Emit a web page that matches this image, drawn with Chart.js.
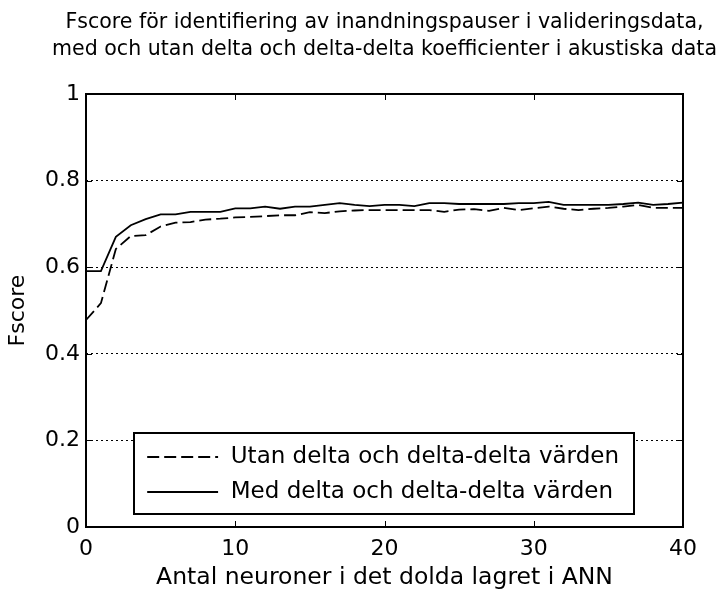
<!DOCTYPE html>
<html>
<head>
<meta charset="utf-8">
<script src="https://cdn.jsdelivr.net/npm/chart.js@4"></script>
<style>
    html, body { margin: 0; padding: 0; background: #fff; }
    #wrap { position: relative; width: 719px; height: 592px; }
</style>
</head>
<body>
<div id="wrap"><canvas id="chart"></canvas></div>
<script>
    "use strict";

    const titleLines = [
        "Fscore för identifiering av inandningspauser i valideringsdata,",
        "med och utan delta och delta-delta koefficienter i akustiska data"
    ];
    const xTitle = "Antal neuroner i det dolda lagret i ANN";
    const yTitle = "Fscore";

    const neurons = [0, 1, 2, 3, 4, 5, 6, 7, 8, 9, 10, 11, 12, 13, 14, 15, 16, 17, 18, 19, 20,
        21, 22, 23, 24, 25, 26, 27, 28, 29, 30, 31, 32, 33, 34, 35, 36, 37, 38, 39, 40];

    const utanLabel = "Utan delta och delta-delta värden";
    const utanValues = [0.478, 0.517, 0.642, 0.672, 0.674, 0.694, 0.703, 0.704, 0.710, 0.712, 0.715,
        0.716, 0.718, 0.720, 0.720, 0.727, 0.725, 0.729, 0.731, 0.732, 0.732,
        0.732, 0.732, 0.732, 0.728, 0.733, 0.734, 0.730, 0.737, 0.732, 0.736,
        0.740, 0.735, 0.732, 0.735, 0.737, 0.740, 0.744, 0.737, 0.737, 0.737];

    const medLabel = "Med delta och delta-delta värden";
    const medValues = [0.591, 0.591, 0.670, 0.697, 0.711, 0.722, 0.722, 0.728, 0.728, 0.728, 0.736,
        0.736, 0.740, 0.735, 0.740, 0.740, 0.744, 0.748, 0.744, 0.741, 0.744,
        0.744, 0.741, 0.748, 0.748, 0.746, 0.746, 0.746, 0.746, 0.748, 0.748,
        0.751, 0.744, 0.744, 0.744, 0.744, 0.746, 0.749, 0.744, 0.746, 0.749];

    const xTicks = [0, 10, 20, 30, 40];
    const yTicks = [0, 0.2, 0.4, 0.6, 0.8, 1];

    const FONT = '"DejaVu Sans", "Noto Sans", sans-serif';

    const toPoints = (xs, ys) => xs.map((x, i) => ({ x: x, y: ys[i] }));

    // title over the axes, box, inward ticks and the legend inside the axes
    const framePlugin = {
        id: 'frame',
        afterDraw(chart) {
            const ctx = chart.ctx;
            const a = chart.chartArea;
            const xs = chart.scales.x;
            const ys = chart.scales.y;
            ctx.save();

            // title, centred on the axes and kept to the width of the original
            ctx.font = '21.5px ' + FONT;
            ctx.fillStyle = '#000';
            ctx.textAlign = 'center';
            ctx.textBaseline = 'middle';
            const cx = (a.left + a.right) / 2;
            const widest = Math.max(...titleLines.map(t => ctx.measureText(t).width));
            const sx = Math.min(1, 665 / widest);
            titleLines.forEach((t, i) => {
                ctx.save();
                ctx.translate(cx, 22 + i * 27);
                ctx.scale(sx, 1);
                ctx.fillText(t, 0, 0);
                ctx.restore();
            });

            ctx.strokeStyle = '#000';
            ctx.lineWidth = 1;
            ctx.setLineDash([]);
            xTicks.slice(1, -1).forEach(v => {
                const px = Math.round(xs.getPixelForValue(v)) + 0.5;
                ctx.beginPath();
                ctx.moveTo(px, a.bottom); ctx.lineTo(px, a.bottom - 6);
                ctx.moveTo(px, a.top); ctx.lineTo(px, a.top + 6);
                ctx.stroke();
            });
            yTicks.slice(1, -1).forEach(v => {
                const py = Math.round(ys.getPixelForValue(v)) + 0.5;
                ctx.beginPath();
                ctx.moveTo(a.left, py); ctx.lineTo(a.left + 6, py);
                ctx.moveTo(a.right, py); ctx.lineTo(a.right - 6, py);
                ctx.stroke();
            });
            ctx.lineWidth = 2;
            ctx.strokeRect(a.left, a.top, a.right - a.left, a.bottom - a.top);

            // legend
            ctx.font = '23px ' + FONT;
            const sets = chart.data.datasets;
            const textW = Math.max(...sets.map(d => ctx.measureText(d.label).width));
            const left = Math.round(xs.getPixelForValue(3.2));
            const top = a.bottom - 94;
            const textX = xs.getPixelForValue(9.7);
            const right = Math.round(textX + textW + 15);
            const bottom = a.bottom - 13;
            ctx.fillStyle = '#fff';
            ctx.fillRect(left, top, right - left, bottom - top);
            ctx.lineWidth = 2;
            ctx.strokeRect(left, top, right - left, bottom - top);
            sets.forEach((d, i) => {
                const cy = top + 24 + i * 35;
                ctx.beginPath();
                ctx.lineWidth = d.borderWidth;
                ctx.setLineDash(d.borderDash || []);
                ctx.moveTo(xs.getPixelForValue(4.1), cy);
                ctx.lineTo(xs.getPixelForValue(8.85), cy);
                ctx.stroke();
                ctx.setLineDash([]);
                ctx.fillStyle = '#000';
                ctx.textBaseline = 'middle';
                ctx.textAlign = 'left';
                ctx.fillText(d.label, textX, cy);
            });
            ctx.restore();
        }
    };

    const ctx = document.getElementById('chart').getContext('2d');
    new Chart(ctx, {
        type: 'line',
        data: {
            datasets: [
                {
                    label: utanLabel,
                    data: toPoints(neurons, utanValues),
                    borderColor: '#000',
                    borderWidth: 1.8,
                    borderDash: [12, 5],
                    pointRadius: 0,
                    tension: 0,
                    fill: false
                },
                {
                    label: medLabel,
                    data: toPoints(neurons, medValues),
                    borderColor: '#000',
                    borderWidth: 1.8,
                    pointRadius: 0,
                    tension: 0,
                    fill: false
                }
            ]
        },
        options: {
            responsive: true,
            maintainAspectRatio: false,
            animation: false,
            layout: { padding: { left: 0, right: 36, top: 94, bottom: 0 } },
            plugins: {
                legend: { display: false },
                tooltip: { enabled: false },
                title: { display: false }
            },
            scales: {
                x: {
                    type: 'linear',
                    min: 0,
                    max: 40,
                    afterFit: s => { s.height = 65; },
                    afterBuildTicks: s => { s.ticks = xTicks.map(v => ({ value: v })); },
                    ticks: { color: '#000', font: { family: FONT, size: 22 }, padding: 9, maxRotation: 0 },
                    grid: { display: false, drawTicks: false },
                    border: { display: false },
                    title: {
                        display: true,
                        text: xTitle,
                        color: '#000',
                        font: { family: FONT, size: 23.5 },
                        padding: { top: 0, bottom: 0 }
                    }
                },
                y: {
                    min: 0,
                    max: 1,
                    afterFit: s => { s.width = 86; },
                    afterBuildTicks: s => { s.ticks = yTicks.map(v => ({ value: v })); },
                    ticks: {
                        color: '#000',
                        font: { family: FONT, size: 22 },
                        padding: 6,
                        callback: v => String(Math.round(v * 10) / 10)
                    },
                    grid: {
                        drawTicks: false,
                        lineWidth: 1,
                        color: c => (c.tick && (c.tick.value === 0 || c.tick.value === 1)) ? 'rgba(0,0,0,0)' : '#000'
                    },
                    border: { display: false, dash: [2, 3] },
                    title: {
                        display: true,
                        text: yTitle,
                        color: '#000',
                        font: { family: FONT, size: 22 },
                        padding: { top: 5, bottom: 0 }
                    }
                }
            }
        },
        plugins: [framePlugin]
    });
</script>
</body>
</html>
